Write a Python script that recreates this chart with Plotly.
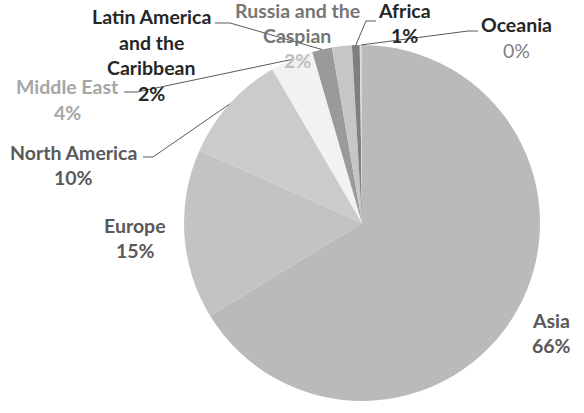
import math
import plotly.graph_objects as go

W, H = 584, 413

# ---- data ----
regions = ["Asia", "Europe", "North America", "Middle East",
           "Latin America and the Caribbean", "Russia and the Caspian",
           "Africa", "Oceania"]
shares = [66.2, 15.4, 9.9, 3.9, 1.8, 1.8, 0.7, 0.2]
pct_labels = ["66%", "15%", "10%", "4%", "2%", "2%", "1%", "0%"]
label_lines = [["Asia"], ["Europe"], ["North America"], ["Middle East"],
               ["Latin America", "and the", "Caribbean"],
               ["Russia and the", "Caspian"], ["Africa"], ["Oceania"]]

# ---- styles ----
slice_colors = ["#bababa", "#c3c3c3", "#cbcbcb", "#f2f2f2",
                "#9a9a9a", "#c6c6c6", "#7f7f7f", "#d9d9d9"]
name_colors = ["#595959", "#595959", "#595959", "#a6a6a6",
               "#262626", "#767676", "#262626", "#262626"]
pct_colors = ["#595959", "#595959", "#595959", "#a6a6a6",
              "#262626", "#c0c0c0", "#262626", "#808080"]
pct_bold = [True, True, True, True, True, True, True, False]
# label block: centre x, y of first line (pixels)
label_pos = [(551, 320), (135, 225), (73, 152), (67, 87),
             (151, 17), (297, 10), (404, 10), (516, 25)]
line_gap = 25.5
# leader lines: start point and elbow (pixels), None if no leader
leaders = [None, None, ((143, 157), (153, 157)), ((124, 92), (137, 92)),
           ((215, 23), (230, 23)), None, ((376, 21), (366, 21)),
           ((478, 31), (468, 31))]

cx, cy, r = 362, 223, 178
FONT = "Lato"
FSIZE = 19.5


def px(x):
    return x / W


def py(y):
    return 1 - y / H


fig = go.Figure(go.Pie(
    labels=regions, values=shares, sort=False, direction="clockwise",
    rotation=0, textinfo="none", hoverinfo="label+percent",
    marker=dict(colors=slice_colors, line=dict(width=0)),
    domain=dict(x=[px(cx - r), px(cx + r)], y=[py(cy + r), py(cy - r)]),
    showlegend=False,
))

annotations = []
shapes = []
total = sum(shares)
cum = 0.0
for i, reg in enumerate(regions):
    mid = (cum + shares[i] / 2) / total * 2 * math.pi
    cum += shares[i]
    lx, ly = label_pos[i]
    lines = label_lines[i]
    for j, t in enumerate(lines):
        annotations.append(dict(
            x=px(lx), y=py(ly + j * line_gap), xref="paper", yref="paper",
            text="<b>%s</b>" % t, showarrow=False, xanchor="center",
            yanchor="middle", font=dict(family=FONT, size=FSIZE, color=name_colors[i])))
    pt = pct_labels[i]
    annotations.append(dict(
        x=px(lx), y=py(ly + len(lines) * line_gap), xref="paper", yref="paper",
        text=("<b>%s</b>" % pt) if pct_bold[i] else pt, showarrow=False,
        xanchor="center", yanchor="middle",
        font=dict(family=FONT, size=FSIZE, color=pct_colors[i])))
    if leaders[i] is not None:
        (x0, y0), (x1, y1) = leaders[i]
        ax = cx + r * math.sin(mid)
        ay = cy - r * math.cos(mid)
        shapes.append(dict(
            type="path", xref="paper", yref="paper",
            path="M %f,%f L %f,%f L %f,%f" % (px(x0), py(y0), px(x1), py(y1), px(ax), py(ay)),
            line=dict(color="#595959", width=1)))

fig.update_layout(
    width=W, height=H, margin=dict(l=0, r=0, t=0, b=0),
    paper_bgcolor="white", plot_bgcolor="white",
    annotations=annotations, shapes=shapes,
)

fig.write_html("out.html", config={"displayModeBar": False},
               post_script="document.body.style.margin='0';")
